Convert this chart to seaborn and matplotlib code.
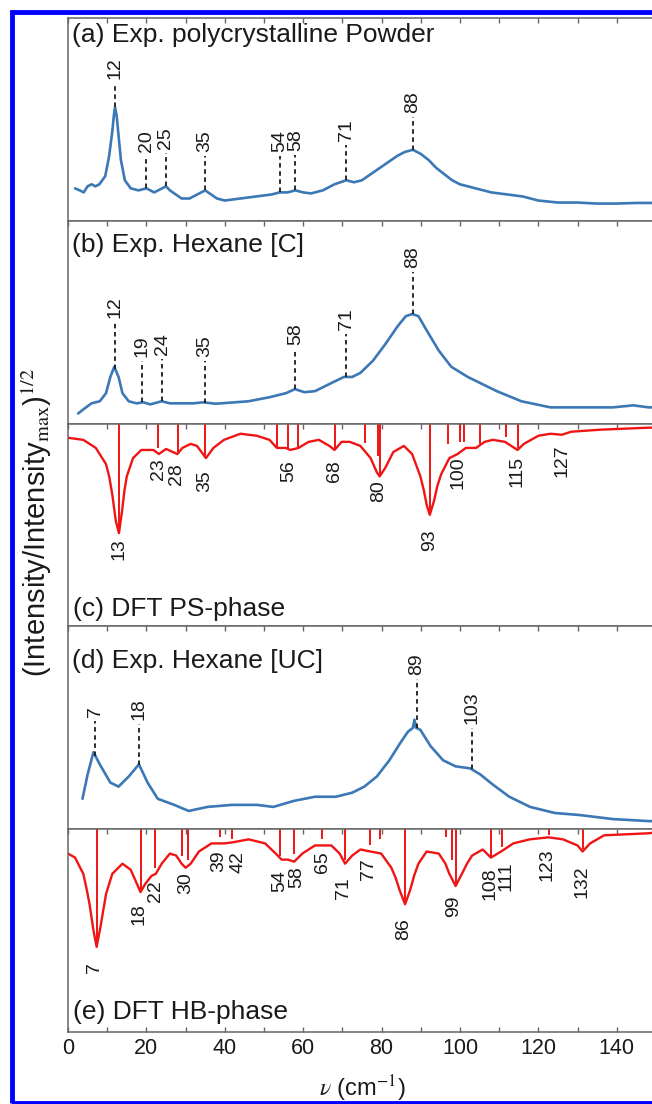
import matplotlib
matplotlib.use("Agg")
import matplotlib.pyplot as plt
from matplotlib.patches import Rectangle
import numpy as np
import seaborn as sns

# (a) Exp. polycrystalline powder, sqrt-normalised intensity
powder_x = [1.8, 3, 4, 5, 6, 7, 8, 9.5, 10.5, 11.3, 11.7, 12, 12.4, 12.8, 13.5, 14.5, 16, 18, 20, 22, 24, 25, 26,
            27.5, 29, 31, 33, 35, 36.5, 38, 40, 44, 48, 52, 54, 56, 58, 60, 62, 65, 68, 71, 73, 75,
            78, 81, 84, 86, 88, 90, 92, 94, 96, 98, 100, 104, 108, 112, 116, 120, 125, 130, 135, 140, 145, 150]
powder_y = [0.16, 0.15, 0.14, 0.17, 0.18, 0.17, 0.18, 0.22, 0.32, 0.44, 0.52, 0.56, 0.52, 0.44, 0.30, 0.20, 0.16, 0.15, 0.16, 0.14, 0.16, 0.17, 0.15,
            0.13, 0.11, 0.11, 0.13, 0.15, 0.13, 0.11, 0.10, 0.11, 0.12, 0.13, 0.14, 0.14, 0.15, 0.14, 0.135, 0.15, 0.18, 0.20, 0.19, 0.20,
            0.24, 0.28, 0.32, 0.34, 0.35, 0.33, 0.30, 0.26, 0.23, 0.20, 0.18, 0.16, 0.14, 0.13, 0.12, 0.10, 0.09, 0.09, 0.085, 0.085, 0.088, 0.088]
powder_peaks = [12, 20, 25, 35, 54, 58, 71, 88]
powder_label_y = [0.70, 0.34, 0.355, 0.34, 0.34, 0.345, 0.395, 0.53]

# (b) Exp. hexane [C]
hexc_x = [2.6, 3.9, 6.0, 8.1, 9.7, 10.8, 11.8, 12.9, 13.9, 15.5, 17.5, 19.2, 21, 23.9, 26, 32, 34.5, 37.7,
          46, 51.4, 55.6, 57.9, 60.3, 63, 67.2, 70.4, 72.5, 74.6, 77.8, 80.9, 84.1, 86.2, 87.8, 89.4,
          91.5, 94.6, 97.8, 102, 109.4, 115.7, 123.1, 130.5, 139, 144.2, 148.2, 150]
hexc_y = [0.05, 0.07, 0.10, 0.11, 0.15, 0.23, 0.28, 0.23, 0.15, 0.11, 0.10, 0.105, 0.095, 0.11, 0.10, 0.10, 0.105, 0.098,
          0.11, 0.13, 0.15, 0.17, 0.155, 0.16, 0.20, 0.23, 0.23, 0.25, 0.31, 0.39, 0.48, 0.53, 0.54, 0.53,
          0.46, 0.36, 0.28, 0.23, 0.16, 0.11, 0.08, 0.08, 0.08, 0.09, 0.08, 0.08]
hexc_peaks = [12, 19, 24, 35, 58, 71, 88]
hexc_label_y = [0.52, 0.33, 0.34, 0.33, 0.386, 0.46, 0.767]

# (c) DFT PS-phase (plotted downwards)
ps_x = [0, 3.9, 7.1, 9.7, 10.5, 11.3, 12.2, 13.0, 13.8, 14.4, 15, 16.6, 18.7, 21.8, 23.2, 25, 27.9, 29.2, 31.3, 32.9, 35.2, 37.1, 39.8,
        44, 48.2, 51.4, 53.3, 55.6, 56.7, 58.8, 61.4, 64, 66.7, 68, 69.8, 71.9, 74.6, 77.2, 78.8, 79.5, 80.9, 83, 85.7, 87.8,
        89.9, 90.8, 91.5, 92.3, 93.4, 94.2, 95.2, 97.3, 99.4, 101.5, 104.1, 106.3, 108.4, 111.5, 114.7, 116.3, 120, 123.1, 126, 128.4,
        135.8, 148.2, 150]
ps_y = [-0.07, -0.08, -0.12, -0.20, -0.26, -0.35, -0.48, -0.54, -0.43, -0.33, -0.26, -0.17, -0.13, -0.13, -0.15, -0.125, -0.15, -0.12, -0.10, -0.11, -0.17, -0.12, -0.08,
        -0.05, -0.06, -0.08, -0.12, -0.12, -0.13, -0.12, -0.09, -0.08, -0.11, -0.13, -0.09, -0.09, -0.11, -0.17, -0.24, -0.26, -0.22, -0.14, -0.11, -0.15,
        -0.26, -0.33, -0.40, -0.45, -0.38, -0.31, -0.25, -0.17, -0.15, -0.12, -0.12, -0.09, -0.08, -0.09, -0.13, -0.10, -0.06, -0.05, -0.055, -0.04,
        -0.03, -0.02, -0.02]
ps_stick_x = [13, 23, 28, 35, 53.3, 56.2, 58.8, 68, 75.7, 79, 79.5, 92.3, 97, 99.9, 101, 105, 111.7, 114.7]
ps_stick_y = [-0.54, -0.12, -0.14, -0.17, -0.12, -0.12, -0.12, -0.13, -0.095, -0.16, -0.26, -0.45, -0.10, -0.09, -0.09, -0.10, -0.064, -0.12]
ps_labels = [13, 23, 28, 35, 56, 68, 80, 93, 100, 115, 127]
ps_label_x = [13, 23, 27.6, 35, 56.2, 68, 79.3, 92.2, 99.4, 114.6, 126]
ps_label_top = [-0.567, -0.172, -0.197, -0.23, -0.18, -0.18, -0.28, -0.52, -0.16, -0.16, -0.10]

# (d) Exp. hexane [UC]
hexuc_x = [3.7, 5, 6.5, 8.1, 10.8, 12.9, 15.5, 18.1, 20.3, 22.9, 27.1, 30.8, 35.6, 41.9, 48.2, 52.4, 57.7, 63, 68.3, 72.5, 75.6,
           78.8, 82, 84.6, 86.7, 88.0, 88.4, 88.8, 89.9, 92.5, 95.7, 98.9, 102.6, 105.2, 108.4, 112.6, 117.9, 124.2, 130.5, 139, 148.2, 150]
hexuc_y = [0.15, 0.27, 0.38, 0.32, 0.23, 0.21, 0.26, 0.32, 0.23, 0.15, 0.12, 0.09, 0.11, 0.12, 0.12, 0.11, 0.14, 0.16, 0.16, 0.18, 0.21,
           0.26, 0.34, 0.42, 0.48, 0.50, 0.54, 0.50, 0.49, 0.41, 0.34, 0.31, 0.30, 0.27, 0.22, 0.16, 0.11, 0.08, 0.07, 0.05, 0.04, 0.04]
hexuc_peaks = [7, 18, 89, 103]
hexuc_label_y = [0.553, 0.537, 0.759, 0.52]

# (e) DFT HB-phase (plotted downwards)
hb_x = [0, 1.8, 3.9, 4.7, 5.5, 6.5, 7.3, 8.3, 9.0, 9.7, 11.3, 13.9, 16, 17.6, 18.5, 19.7, 21.3, 22.4, 23.9, 26, 27.6, 29, 30,
        31.3, 33.4, 36.6, 39.8, 41.9, 46.1, 50.3, 53, 54.5, 56.1, 57.7, 59.8, 63, 67.2, 69.3, 70.7, 72.5, 74.6, 77.2, 79.9, 82.5,
        83.6, 84.6, 86, 87.3, 88.3, 89.4, 91.5, 94.6, 96.3, 97.3, 98.9, 100.5, 101.8, 103.1, 105.8, 107.9, 110.5, 113.6, 117.8, 122.6, 126.3, 130, 131.3,
        133.2, 136.8, 148.2, 150]
hb_y = [-0.12, -0.14, -0.22, -0.29, -0.37, -0.50, -0.58, -0.48, -0.40, -0.32, -0.22, -0.17, -0.20, -0.27, -0.31, -0.27, -0.23, -0.22, -0.17, -0.12, -0.13, -0.17, -0.19,
        -0.17, -0.11, -0.07, -0.07, -0.065, -0.05, -0.07, -0.12, -0.15, -0.15, -0.16, -0.12, -0.08, -0.08, -0.12, -0.17, -0.13, -0.10, -0.11, -0.12, -0.19,
        -0.24, -0.30, -0.37, -0.30, -0.23, -0.17, -0.11, -0.12, -0.17, -0.22, -0.28, -0.22, -0.17, -0.13, -0.10, -0.14, -0.11, -0.07, -0.05, -0.04, -0.05, -0.08, -0.11,
        -0.07, -0.03, -0.02, -0.015]
hb_stick_x = [7.3, 18.5, 22.2, 29, 30.5, 38.7, 41.9, 54.2, 57.7, 64.9, 70.7, 77, 79.6, 86, 96.4, 98, 98.9, 107.9, 110.7, 122.6, 131.3]
hb_stick_y = [-0.58, -0.31, -0.19, -0.13, -0.15, -0.04, -0.05, -0.13, -0.12, -0.05, -0.15, -0.08, -0.05, -0.37, -0.04, -0.15, -0.28, -0.13, -0.09, -0.03, -0.10]
hb_labels = [7, 18, 22, 30, 39, 42, 54, 58, 65, 71, 77, 86, 99, 108, 111, 123, 132]
hb_label_x = [6.8, 18.1, 22.3, 30, 38.5, 43.3, 54, 58.4, 65, 70.4, 76.7, 85.7, 98.3, 107.6, 111.8, 122.3, 131.2]
hb_label_top = [-0.654, -0.365, -0.25, -0.21, -0.105, -0.11, -0.20, -0.185, -0.11, -0.235, -0.145, -0.44, -0.325, -0.19, -0.16, -0.095, -0.18]

BLUE = "#3b78b5"
RED = "#f01414"
TXT = "#1a1a1a"

sns.set_theme(style="ticks")
plt.rcParams["font.family"] = ["Liberation Sans", "DejaVu Sans"]
plt.rcParams["mathtext.fontset"] = "stix"

fig, axes = plt.subplots(5, 1, figsize=(6.52, 11.04), dpi=100, sharex=True)
fig.subplots_adjust(left=0.1043, right=1.006, top=0.9837, bottom=0.0652, hspace=0)


def exp_panel(ax, x, y, peaks, label_y, title, title_y):
    sns.lineplot(x=x, y=y, ax=ax, color=BLUE, lw=1.9, solid_joinstyle="round")
    for p, ly in zip(peaks, label_y):
        yb = np.interp(p, x, y)
        ax.plot([p, p], [yb, ly - 0.02], color="k", lw=1.3, ls=(0, (2.5, 2.0)))
        ax.text(p, ly, str(p), rotation=90, ha="center", va="bottom", fontsize=14, color=TXT)
    ax.set_ylim(0, 1)
    ax.text(0.006, title_y, title, transform=ax.transAxes, va="top", ha="left", fontsize=19, color=TXT)


def dft_panel(ax, x, y, sx, sy, labels, label_x, label_top, title, title_y):
    ax.vlines(sx, sy, 0, color=RED, lw=1.4)
    sns.lineplot(x=x, y=y, ax=ax, color=RED, lw=1.7, solid_joinstyle="round")
    for v, lx, t in zip(labels, label_x, label_top):
        ax.text(lx, t, str(v), rotation=90, ha="center", va="top", fontsize=14, color=TXT)
    ax.set_ylim(-1, 0)
    ax.text(0.008, title_y, title, transform=ax.transAxes, va="bottom", ha="left", fontsize=19, color=TXT)


exp_panel(axes[0], powder_x, powder_y, powder_peaks, powder_label_y, "(a) Exp. polycrystalline Powder", 0.977)
exp_panel(axes[1], hexc_x, hexc_y, hexc_peaks, hexc_label_y, "(b) Exp. Hexane [C]", 0.94)
dft_panel(axes[2], ps_x, ps_y, ps_stick_x, ps_stick_y, ps_labels, ps_label_x, ps_label_top, "(c) DFT PS-phase", 0.025)
exp_panel(axes[3], hexuc_x, hexuc_y, hexuc_peaks, hexuc_label_y, "(d) Exp. Hexane [UC]", 0.89)
dft_panel(axes[4], hb_x, hb_y, hb_stick_x, hb_stick_y, hb_labels, hb_label_x, hb_label_top, "(e) DFT HB-phase", 0.04)

ticks = list(range(0, 151, 10))
tick_labels = [str(t) if t % 20 == 0 else "" for t in ticks]
for i, ax in enumerate(axes):
    ax.set_xlim(0, 150)
    ax.set_yticks([])
    ax.set_ylabel("")
    ax.set_xlabel("")
    for s in ax.spines.values():
        s.set_color("#666666")
        s.set_linewidth(1.1)
    ax.set_xticks(ticks)
    last = i == len(axes) - 1
    ax.tick_params(axis="x", direction="in", top=True, bottom=last, labelbottom=last,
                   length=3.5, width=1.0, color="#666666", labelsize=15.5, labelcolor=TXT, pad=4)
axes[-1].set_xticklabels(tick_labels)

fig.text(0.057, 0.527, r"(Intensity/Intensity$_{\mathrm{max}}$)$^{1/2}$", rotation=90,
         ha="center", va="center", fontsize=21, color=TXT)
fig.text(0.555, 0.0136, r"$\nu$ (cm$^{-1}$)", ha="center", va="center", fontsize=17, color=TXT)

# blue frame around the figure (right side falls outside, as in the original crop)
fig.add_artist(Rectangle((11.5 / 652, 1 - 1103 / 1104), 1.0, (1103 - 12) / 1104,
                         transform=fig.transFigure, fill=False, ec="#0000ff", lw=3.5, clip_on=False))

fig.savefig("out.png", dpi=100)
